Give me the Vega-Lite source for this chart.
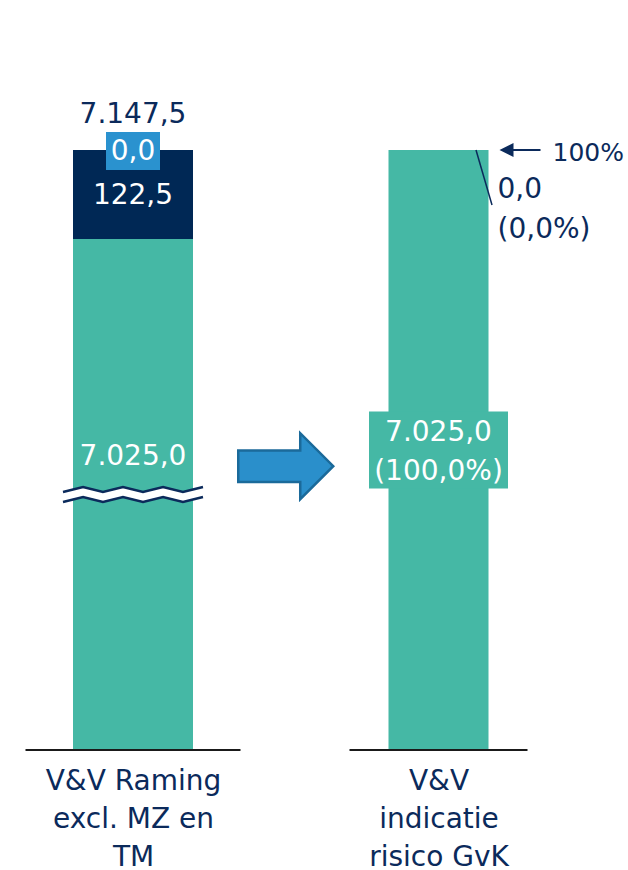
{
  "$schema": "https://vega.github.io/schema/vega-lite/v6.json",
  "width": 628,
  "height": 750,
  "padding": 0,
  "background": "white",
  "config": {
    "view": {"stroke": null},
    "font": "DejaVu Sans",
    "locale": {"number": {"decimal": ",", "thousands": ".", "grouping": [3], "currency": ["€ ", ""]}}
  },
  "data": {
    "values": [
      {"bar": "V&V Raming excl. MZ en TM", "segment": "Basis", "value": 7025.0},
      {"bar": "V&V Raming excl. MZ en TM", "segment": "Extra", "value": 122.5},
      {"bar": "V&V Raming excl. MZ en TM", "segment": "Risico", "value": 0.0},
      {"bar": "V&V indicatie risico GvK", "segment": "Basis", "value": 7025.0, "pct": 100.0},
      {"bar": "V&V indicatie risico GvK", "segment": "Risico", "value": 0.0, "pct": 0.0}
    ]
  },
  "encoding": {
    "x": {
      "field": "bar",
      "type": "nominal",
      "scale": {"type": "point", "domain": ["V&V Raming excl. MZ en TM", "→", "V&V indicatie risico GvK"], "range": [133, 438.5], "padding": 0},
      "axis": {
        "title": null,
        "domain": false,
        "ticks": false,
        "tickSize": 0,
        "grid": false,
        "labelAngle": 0,
        "labelFont": "DejaVu Sans",
        "labelFontSize": 28,
        "labelColor": "#0b2a5b",
        "labelPadding": 17,
        "labelLineHeight": 38,
        "labelBaseline": "top",
        "labelLimit": 0,
        "labelOverlap": false,
        "labelExpr": "datum.value == 'V&V Raming excl. MZ en TM' ? ['V&V Raming', 'excl. MZ en', 'TM'] : datum.value == 'V&V indicatie risico GvK' ? ['V&V', 'indicatie', 'risico GvK'] : ''"
      }
    }
  },
  "layer": [
    {
      "transform": [
        {"filter": "datum.bar == 'V&V Raming excl. MZ en TM'"},
        {"stack": "value", "groupby": ["bar"], "sort": [{"field": "segment"}], "as": ["v0", "v1"]},
        {"calculate": "(datum.v0 + datum.v1) / 2", "as": "vm"}
      ],
      "layer": [
        {
          "mark": {"type": "bar", "width": 120},
          "encoding": {
            "y": {"field": "v0", "type": "quantitative", "scale": {"domain": [0, 7025, 7147.5], "range": [750, 239, 150], "nice": false, "zero": false}, "axis": null},
            "y2": {"field": "v1"},
            "color": {"field": "segment", "type": "nominal", "scale": {"domain": ["Basis", "Extra", "Risico"], "range": ["#45b8a5", "#002855", "#2a92cf"]}, "legend": null}
          }
        },
        {
          "transform": [{"filter": "datum.segment == 'Basis'"}],
          "mark": {"type": "tick", "thickness": 2, "size": 215, "color": "#1a1a1a", "opacity": 1},
          "encoding": {"y": {"datum": 0, "type": "quantitative"}}
        },
        {
          "transform": [{"filter": "datum.segment == 'Basis'"}],
          "mark": {"type": "point", "filled": true, "opacity": 1, "fill": "white", "strokeWidth": 0, "size": 19600,
            "shape": "M-1,-0.0357L-0.714,-0.1071L-0.429,-0.0357L-0.143,-0.1071L0.143,-0.0357L0.429,-0.1071L0.714,-0.0357L1,-0.1071L1,0.0357L0.714,0.1071L0.429,0.0357L0.143,0.1071L-0.143,0.0357L-0.429,0.1071L-0.714,0.0357L-1,0.1071Z"},
          "encoding": {"y": {"field": "vm", "type": "quantitative"}}
        },
        {
          "transform": [{"filter": "datum.segment == 'Basis'"}],
          "mark": {"type": "point", "filled": false, "opacity": 1, "stroke": "#0b2a5b", "strokeWidth": 2.5, "size": 19600,
            "shape": "M-1,-0.0357L-0.714,-0.1071L-0.429,-0.0357L-0.143,-0.1071L0.143,-0.0357L0.429,-0.1071L0.714,-0.0357L1,-0.1071M-1,0.1071L-0.714,0.0357L-0.429,0.1071L-0.143,0.0357L0.143,0.1071L0.429,0.0357L0.714,0.1071L1,0.0357"},
          "encoding": {"y": {"field": "vm", "type": "quantitative"}}
        },
        {
          "transform": [{"filter": "datum.segment == 'Basis'"}],
          "mark": {"type": "text", "color": "white", "fontSize": 28, "baseline": "middle", "dy": -38},
          "encoding": {"y": {"field": "vm", "type": "quantitative"}, "text": {"field": "value", "type": "quantitative", "format": ",.1f"}}
        },
        {
          "transform": [{"filter": "datum.segment == 'Extra'"}],
          "mark": {"type": "text", "color": "white", "fontSize": 28, "baseline": "middle", "dy": 1},
          "encoding": {"y": {"field": "vm", "type": "quantitative"}, "text": {"field": "value", "type": "quantitative", "format": ",.1f"}}
        },
        {
          "transform": [{"filter": "datum.segment == 'Risico'"}],
          "mark": {"type": "point", "filled": true, "opacity": 1, "fill": "#2a92cf", "strokeWidth": 0, "size": 2916, "yOffset": 1,
            "shape": "M-1,-0.7037L1,-0.7037L1,0.7037L-1,0.7037Z"},
          "encoding": {"y": {"field": "vm", "type": "quantitative"}}
        },
        {
          "transform": [{"filter": "datum.segment == 'Risico'"}],
          "mark": {"type": "text", "color": "white", "fontSize": 28, "baseline": "middle", "dy": 2},
          "encoding": {"y": {"field": "vm", "type": "quantitative"}, "text": {"field": "value", "type": "quantitative", "format": ",.1f"}}
        },
        {
          "transform": [{"filter": "datum.segment == 'Risico'"}],
          "mark": {"type": "text", "color": "#0b2a5b", "fontSize": 28, "baseline": "middle", "dy": -35},
          "encoding": {"y": {"field": "v1", "type": "quantitative"}, "text": {"field": "v1", "type": "quantitative", "format": ",.1f"}}
        }
      ]
    },
    {
      "transform": [
        {"filter": "datum.bar == 'V&V indicatie risico GvK'"},
        {"stack": "pct", "groupby": ["bar"], "sort": [{"field": "segment"}], "as": ["p0", "p1"]},
        {"calculate": "(datum.p0 + datum.p1) / 2", "as": "pm"},
        {"calculate": "[format(datum.value, ',.1f'), '(' + format(datum.pct, ',.1f') + '%)']", "as": "lab"},
        {"calculate": "format(datum.p1, '.0f') + '%'", "as": "toplab"}
      ],
      "layer": [
        {
          "mark": {"type": "bar", "width": 100},
          "encoding": {
            "y": {"field": "p0", "type": "quantitative", "scale": {"domain": [0, 100], "range": [750, 150], "nice": false, "zero": false}, "axis": null},
            "y2": {"field": "p1"},
            "color": {"field": "segment", "type": "nominal", "scale": {"domain": ["Basis", "Extra", "Risico"], "range": ["#45b8a5", "#002855", "#2a92cf"]}, "legend": null}
          }
        },
        {
          "transform": [{"filter": "datum.segment == 'Basis'"}],
          "mark": {"type": "tick", "thickness": 2, "size": 178, "color": "#1a1a1a", "opacity": 1},
          "encoding": {"y": {"datum": 0, "type": "quantitative"}}
        },
        {
          "transform": [{"filter": "datum.segment == 'Basis'"}],
          "mark": {"type": "point", "filled": true, "opacity": 1, "fill": "#45b8a5", "strokeWidth": 0, "size": 19321,
            "shape": "M-1,-0.554L1,-0.554L1,0.554L-1,0.554Z"},
          "encoding": {"y": {"field": "pm", "type": "quantitative"}}
        },
        {
          "transform": [{"filter": "datum.segment == 'Basis'"}],
          "mark": {"type": "text", "color": "white", "fontSize": 28, "baseline": "middle", "lineHeight": 39, "dy": -17},
          "encoding": {"y": {"field": "pm", "type": "quantitative"}, "text": {"field": "lab", "type": "nominal"}}
        },
        {
          "transform": [{"filter": "datum.segment == 'Basis'"}],
          "mark": {"type": "point", "filled": true, "opacity": 1, "fill": "#2a8fcb", "stroke": "#1b6a9a", "strokeWidth": 2.5, "size": 9025,
            "shape": "M-1,-0.33L0.305,-0.33L0.305,-0.695L1,0L0.305,0.695L0.305,0.33L-1,0.33Z"},
          "encoding": {"x": {"datum": "→"}, "y": {"datum": 47.3, "type": "quantitative"}}
        },
        {
          "transform": [{"filter": "datum.segment == 'Basis'"}],
          "mark": {"type": "point", "filled": true, "opacity": 1, "fill": "#0b2a5b", "strokeWidth": 0, "size": 1681, "xOffset": 81.5,
            "shape": "M-1,0L-0.317,-0.341L-0.317,-0.049L1,-0.049L1,0.049L-0.317,0.049L-0.317,0.341Z"},
          "encoding": {"y": {"field": "p1", "type": "quantitative"}}
        },
        {
          "transform": [{"filter": "datum.segment == 'Basis'"}],
          "mark": {"type": "text", "color": "#0b2a5b", "fontSize": 25, "align": "left", "baseline": "middle", "dx": 114, "dy": 3},
          "encoding": {"y": {"field": "p1", "type": "quantitative"}, "text": {"field": "toplab", "type": "nominal"}}
        },
        {
          "transform": [{"filter": "datum.segment == 'Risico'"}],
          "mark": {"type": "rule", "color": "#0b2a5b", "strokeWidth": 1.5, "xOffset": 37.5, "x2Offset": 53.5, "y2Offset": 55},
          "encoding": {"x2": {"datum": "V&V indicatie risico GvK"}, "y": {"field": "p1", "type": "quantitative"}, "y2": {"field": "p1"}}
        },
        {
          "transform": [{"filter": "datum.segment == 'Risico'"}],
          "mark": {"type": "text", "color": "#0b2a5b", "fontSize": 28, "align": "left", "baseline": "middle", "lineHeight": 40, "dx": 59, "dy": 40},
          "encoding": {"y": {"field": "p1", "type": "quantitative"}, "text": {"field": "lab", "type": "nominal"}}
        }
      ]
    }
  ],
  "resolve": {"scale": {"y": "independent"}}
}
